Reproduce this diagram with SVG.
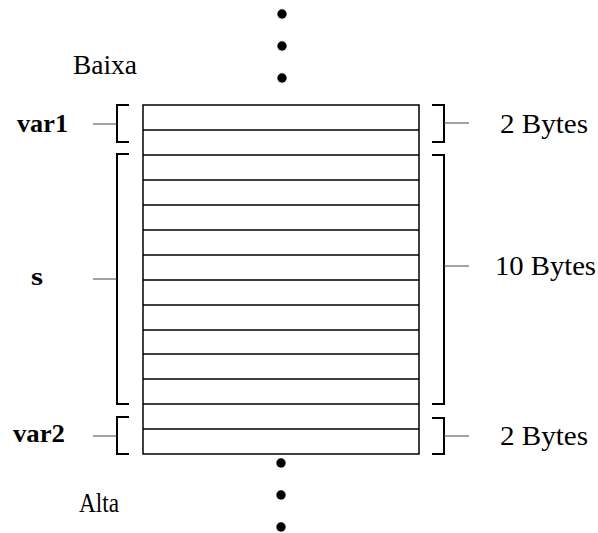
<svg xmlns="http://www.w3.org/2000/svg" width="598" height="533" viewBox="0 0 598 533">
<style>
text{font-family:"Liberation Serif","Times New Roman",serif;font-size:28px;fill:#000}
.b{font-weight:bold;font-size:26px}
.br{fill:none;stroke:#000;stroke-width:2}
.tk{fill:none;stroke:#444;stroke-width:1}
.cell{fill:#fff;stroke:#000;stroke-width:1.5}
.row{stroke:#000;stroke-width:1.3}
.dot{fill:#000}
</style>
<rect width="598" height="533" fill="#fff"/>
<g id="memory">
<rect class="cell" x="143" y="105" width="276" height="349"/>
<path class="row" d="M143,130H419M143,155H419M143,180H419M143,205H419M143,230H419M143,255H419M143,280H419M143,305H419M143,330H419M143,354H419M143,379H419M143,404H419M143,429H419"/>
</g>
<g id="dots">
<circle class="dot" cx="282" cy="14" r="4.7"/>
<circle class="dot" cx="282" cy="46" r="4.7"/>
<circle class="dot" cx="282" cy="78" r="4.7"/>
<circle class="dot" cx="281" cy="463" r="4.7"/>
<circle class="dot" cx="281" cy="495" r="4.7"/>
<circle class="dot" cx="281" cy="527" r="4.7"/>
</g>
<g id="labels">
<text x="73" y="74" textLength="64" lengthAdjust="spacingAndGlyphs">Baixa</text>
<text x="79" y="512" textLength="40" lengthAdjust="spacingAndGlyphs">Alta</text>
</g>
<g id="var1">
<text class="b" x="17" y="132" textLength="51" lengthAdjust="spacingAndGlyphs">var1</text>
<path class="br" d="M129,105H117V142H129"/>
<path class="tk" d="M93,124H117"/>
</g>
<g id="s">
<text class="b" x="31" y="285" textLength="12" lengthAdjust="spacingAndGlyphs">s</text>
<path class="br" d="M129,154H117V404H129"/>
<path class="tk" d="M93,279H117"/>
</g>
<g id="var2">
<text class="b" x="13" y="442" textLength="52" lengthAdjust="spacingAndGlyphs">var2</text>
<path class="br" d="M129,417H117V454H129"/>
<path class="tk" d="M93,436H117"/>
</g>
<g id="bytes1">
<path class="br" d="M432,105H444V142H432"/>
<path class="tk" d="M444,123H469"/>
<text x="500" y="133" textLength="88" lengthAdjust="spacingAndGlyphs">2 Bytes</text>
</g>
<g id="bytes10">
<path class="br" d="M432,155H444V404H432"/>
<path class="tk" d="M444,266H469"/>
<text x="495" y="275" textLength="101" lengthAdjust="spacingAndGlyphs">10 Bytes</text>
</g>
<g id="bytes2">
<path class="br" d="M432,418H444V454H432"/>
<path class="tk" d="M444,436H469"/>
<text x="500" y="445" textLength="88" lengthAdjust="spacingAndGlyphs">2 Bytes</text>
</g>
</svg>
